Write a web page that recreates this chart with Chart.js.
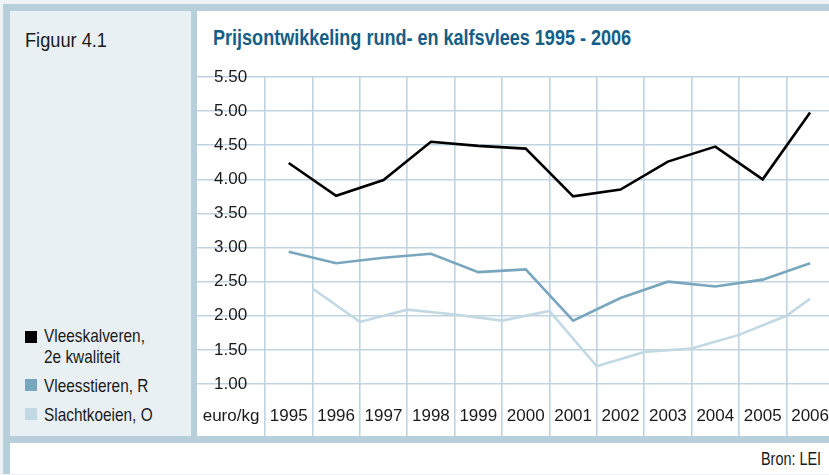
<!DOCTYPE html>
<html>
<head>
<meta charset="utf-8">
<script src="https://cdn.jsdelivr.net/npm/chart.js@4/dist/chart.umd.min.js"></script>
<style>
  html, body { margin: 0; padding: 0; width: 829px; height: 475px; overflow: hidden; background: #edf2f5; }
  body { position: relative; font-family: "Liberation Sans", Arial, sans-serif; color: #1a1a1a; }
  .abs { position: absolute; }
  #band { left: 3px; top: 4px; width: 826px; height: 470px; background: #b7cedb; }
  #side { left: 10px; top: 11px; width: 181px; height: 425px; background: #e9f0f4; }
  #panel { left: 197px; top: 11px; width: 632px; height: 425px; background: #fff; }
  #foot { left: 10px; top: 443px; width: 819px; height: 31px; background: #fff; }
  .txt { line-height: 1; white-space: nowrap; transform-origin: left center; }
  #fig { left: 25px; top: 29px; font-size: 21px; transform: scaleX(0.867); }
  #title { left: 213px; top: 27px; font-size: 22px; font-weight: bold; color: #145e87; transform: scaleX(0.82); }
  #source { right: 8px; top: 450px; font-size: 18.5px; transform: scaleX(0.78); transform-origin: right center; }
  .box { width: 12px; height: 12px; left: 25px; }
  .lg { left: 44px; font-size: 19px; transform: scaleX(0.81); }
  #chart { left: 163px; top: 11px; }
</style>
</head>
<body>
<div id="band" class="abs"></div>
<div id="side" class="abs"></div>
<div id="panel" class="abs"></div>
<div id="foot" class="abs"></div>
<div id="fig" class="abs txt">Figuur 4.1</div>
<div id="title" class="abs txt">Prijsontwikkeling rund- en kalfsvlees 1995 - 2006</div>
<div id="source" class="abs txt">Bron: LEI</div>
<div id="legend"></div>
<canvas id="chart" class="abs" width="697" height="452"></canvas>
<script>
// prijzen in euro/kg
const years = [1995, 1996, 1997, 1998, 1999, 2000, 2001, 2002, 2003, 2004, 2005, 2006];
const kalverenValues = [4.24, 3.76, 3.99, 4.55, 4.49, 4.45, 3.75, 3.85, 4.26, 4.48, 4.00, 4.98];
const stierenValues = [2.94, 2.77, 2.85, 2.91, 2.64, 2.68, 1.93, 2.26, 2.50, 2.43, 2.53, 2.77];
// slachtkoeien staan in de figuur een half jaar verschoven
const koeienYears = [1995.5, 1996.5, 1997.5, 1998.5, 1999.5, 2000.5, 2001.5, 2002.5, 2003.5, 2004.5, 2005.5, 2006];
const koeienValues = [2.40, 1.91, 2.09, 2.02, 1.93, 2.07, 1.26, 1.47, 1.52, 1.72, 2.00, 2.25];
const seriesNames = [["Vleeskalveren,", "2e kwaliteit"], ["Vleesstieren, R"], ["Slachtkoeien, O"]];
const seriesColours = ["#000000", "#78a6be", "#c2d8e3"];
const yTicks = [1.0, 1.5, 2.0, 2.5, 3.0, 3.5, 4.0, 4.5, 5.0, 5.5];
const unitLabel = "euro/kg";

const GRID = "#bfd4e0";
const FONT = "'Liberation Sans', Arial, sans-serif";
const X_MIN = 1993.065, X_MAX = 2007.053;
const Y_MIN = 0.241, Y_MAX = 5.5;
const UNIT_POS = 1993.783;

// legend in the side panel
const legendTops = [[325.7, 346.7], [375.7], [405.2]];
const boxTops = [331, 379, 408];
const legend = document.getElementById("legend");
seriesNames.forEach((lines, i) => {
  const box = document.createElement("div");
  box.className = "abs box";
  box.style.top = boxTops[i] + "px";
  box.style.background = seriesColours[i];
  legend.appendChild(box);
  lines.forEach((line, j) => {
    const t = document.createElement("div");
    t.className = "abs txt lg";
    t.style.top = legendTops[i][j] + "px";
    t.textContent = line;
    legend.appendChild(t);
  });
});

function points(xs, ys) {
  return xs.map((x, i) => ({ x: x, y: ys[i] }));
}

const gridTicks = years.map(y => y - 0.5);

new Chart(document.getElementById("chart"), {
  type: "line",
  data: {
    datasets: [
      { label: seriesNames[0].join(" "), data: points(years, kalverenValues), borderColor: seriesColours[0] },
      { label: seriesNames[1].join(" "), data: points(years, stierenValues), borderColor: seriesColours[1] },
      { label: seriesNames[2].join(" "), data: points(koeienYears, koeienValues), borderColor: seriesColours[2] },
    ],
  },
  options: {
    responsive: false,
    animation: false,
    layout: { padding: { top: 66, left: 0, right: 0, bottom: 0 } },
    elements: {
      point: { radius: 0 },
      line: { borderWidth: 2.6, tension: 0, fill: false },
    },
    plugins: {
      legend: { display: false },
      tooltip: { enabled: false },
    },
    scales: {
      x: {
        type: "linear",
        min: X_MIN,
        max: X_MAX,
        bounds: "data",
        afterBuildTicks: s => { s.ticks = gridTicks.map(v => ({ value: v })); },
        ticks: { display: false },
        grid: { color: GRID, lineWidth: 1.6, drawTicks: false },
        border: { display: false },
      },
      xl: {
        type: "linear",
        axis: "x",
        position: "bottom",
        min: X_MIN,
        max: X_MAX,
        bounds: "data",
        afterBuildTicks: s => {
          s.ticks = [{ value: UNIT_POS }].concat(years.map(v => ({ value: v })));
        },
        ticks: {
          mirror: true,
          padding: 0,
          autoSkip: false,
          maxRotation: 0,
          color: "#1a1a1a",
          font: { family: FONT, size: 17, lineHeight: 2.35 },
          callback: v => (v < 1994.5 ? unitLabel : String(v)),
        },
        grid: { display: false },
        border: { display: false },
      },
      y: {
        min: Y_MIN,
        max: Y_MAX,
        bounds: "data",
        afterBuildTicks: s => { s.ticks = yTicks.map(v => ({ value: v })); },
        ticks: {
          mirror: true,
          padding: 17,
          color: "#1a1a1a",
          font: { family: FONT, size: 17 },
          callback: v => v.toFixed(2),
        },
        grid: { color: GRID, lineWidth: 1.6, drawTicks: false },
        border: { display: false },
      },
    },
  },
});
</script>
</body>
</html>
